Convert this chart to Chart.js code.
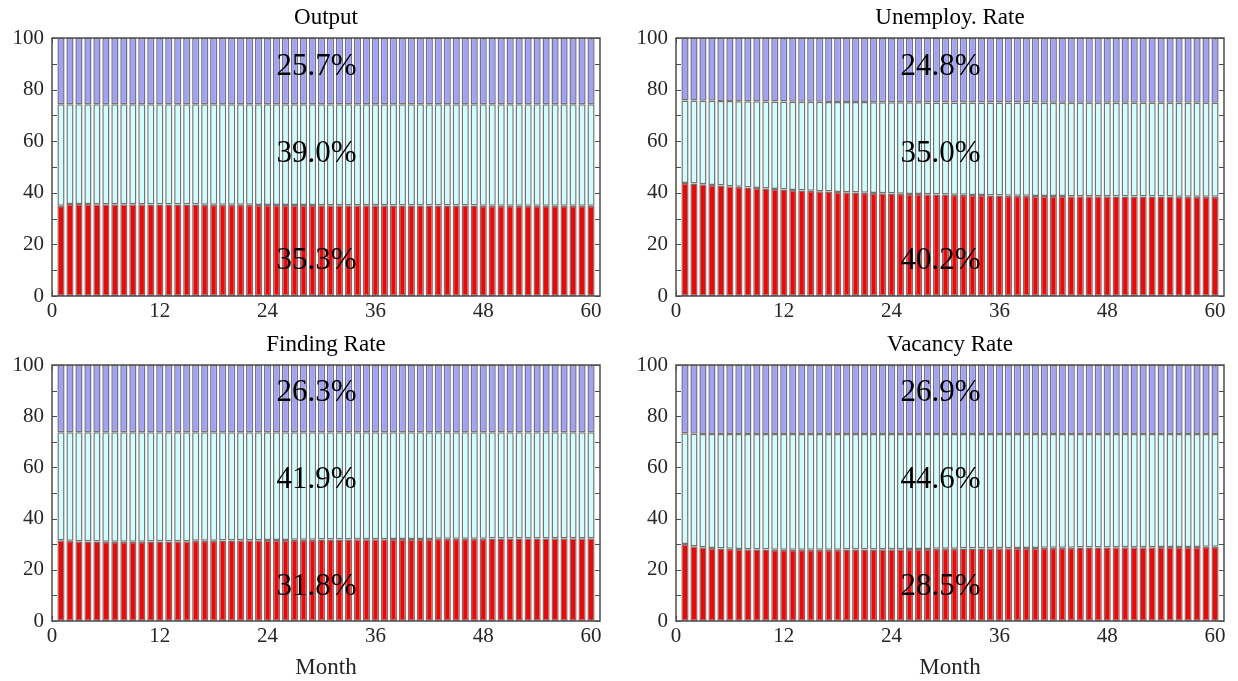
<!DOCTYPE html>
<html>
<head>
<meta charset="utf-8">
<script src="https://cdn.jsdelivr.net/npm/chart.js@4.4.1/dist/chart.umd.min.js"></script>
<style>
body { margin: 0; background: #fff; width: 1238px; height: 681px; overflow: hidden; position: relative; }
.panel { position: absolute; }
</style>
</head>
<body>
<div class="panel" style="left:0;top:0;width:620px;height:325px"><canvas id="c0"></canvas></div>
<div class="panel" style="left:620px;top:0;width:618px;height:325px"><canvas id="c1"></canvas></div>
<div class="panel" style="left:0;top:325px;width:620px;height:356px"><canvas id="c2"></canvas></div>
<div class="panel" style="left:620px;top:325px;width:618px;height:356px"><canvas id="c3"></canvas></div>
<script>
// months on the x axis
var months = [1, 2, 3, 4, 5, 6, 7, 8, 9, 10, 11, 12, 13, 14, 15, 16, 17, 18, 19, 20,
    21, 22, 23, 24, 25, 26, 27, 28, 29, 30, 31, 32, 33, 34, 35, 36, 37, 38, 39, 40,
    41, 42, 43, 44, 45, 46, 47, 48, 49, 50, 51, 52, 53, 54, 55, 56, 57, 58, 59, 60];

var xTicks = [0, 12, 24, 36, 48, 60];
var yTicks = [0, 20, 40, 60, 80, 100];
var yMinor = [10, 30, 50, 70, 90];

var titles = ['Output', 'Unemploy. Rate', 'Finding Rate', 'Vacancy Rate'];
var xTitle = 'Month';

// share labels (bottom, middle, top) for each panel
var pctOutput = ['35.3%', '39.0%', '25.7%'];
var pctUnemp = ['40.2%', '35.0%', '24.8%'];
var pctFinding = ['31.8%', '41.9%', '26.3%'];
var pctVacancy = ['28.5%', '44.6%', '26.9%'];
var labelX = 25;
var labelY = [13.5, 55, 89];

// Output
var outputRed = [35.0, 35.7, 35.7, 35.7, 35.6, 35.6, 35.6, 35.6, 35.6, 35.6,
    35.5, 35.5, 35.5, 35.5, 35.5, 35.5, 35.4, 35.4, 35.4, 35.4,
    35.4, 35.4, 35.3, 35.3, 35.3, 35.3, 35.3, 35.3, 35.3, 35.2,
    35.2, 35.2, 35.2, 35.2, 35.2, 35.2, 35.2, 35.1, 35.1, 35.1,
    35.1, 35.1, 35.1, 35.1, 35.1, 35.1, 35.1, 35.0, 35.0, 35.0,
    35.0, 35.0, 35.0, 35.0, 35.0, 35.0, 35.0, 35.0, 35.0, 35.0];
var outputCyan = [39.3, 38.6, 38.6, 38.6, 38.7, 38.7, 38.7, 38.7, 38.7, 38.7,
    38.8, 38.8, 38.8, 38.8, 38.8, 38.8, 38.9, 38.9, 38.9, 38.9,
    38.9, 38.9, 39.0, 39.0, 39.0, 39.0, 39.0, 39.0, 39.0, 39.1,
    39.1, 39.1, 39.1, 39.1, 39.1, 39.1, 39.1, 39.2, 39.2, 39.2,
    39.2, 39.2, 39.2, 39.2, 39.2, 39.2, 39.2, 39.3, 39.3, 39.3,
    39.3, 39.3, 39.3, 39.3, 39.3, 39.3, 39.3, 39.3, 39.3, 39.3];
var outputBlue = [25.7, 25.7, 25.7, 25.7, 25.7, 25.7, 25.7, 25.7, 25.7, 25.7,
    25.7, 25.7, 25.7, 25.7, 25.7, 25.7, 25.7, 25.7, 25.7, 25.7,
    25.7, 25.7, 25.7, 25.7, 25.7, 25.7, 25.7, 25.7, 25.7, 25.7,
    25.7, 25.7, 25.7, 25.7, 25.7, 25.7, 25.7, 25.7, 25.7, 25.7,
    25.7, 25.7, 25.7, 25.7, 25.7, 25.7, 25.7, 25.7, 25.7, 25.7,
    25.7, 25.7, 25.7, 25.7, 25.7, 25.7, 25.7, 25.7, 25.7, 25.7];

// Unemployment rate
var unempRed = [43.8, 43.6, 43.3, 43.0, 42.8, 42.5, 42.3, 42.1, 41.9, 41.7,
    41.5, 41.3, 41.1, 40.9, 40.8, 40.6, 40.5, 40.3, 40.2, 40.1,
    40.0, 39.9, 39.8, 39.7, 39.6, 39.5, 39.5, 39.4, 39.3, 39.3,
    39.2, 39.2, 39.1, 39.1, 39.0, 39.0, 38.9, 38.9, 38.9, 38.8,
    38.8, 38.8, 38.8, 38.7, 38.7, 38.7, 38.7, 38.7, 38.6, 38.6,
    38.6, 38.6, 38.6, 38.6, 38.6, 38.5, 38.5, 38.5, 38.5, 38.5];
var unempCyan = [32.0, 32.2, 32.4, 32.7, 32.8, 33.1, 33.2, 33.4, 33.6, 33.7,
    33.9, 34.1, 34.2, 34.4, 34.5, 34.7, 34.7, 34.9, 35.0, 35.1,
    35.2, 35.2, 35.3, 35.4, 35.5, 35.6, 35.6, 35.6, 35.7, 35.7,
    35.8, 35.8, 35.9, 35.9, 36.0, 36.0, 36.1, 36.1, 36.1, 36.2,
    36.1, 36.1, 36.1, 36.2, 36.2, 36.2, 36.2, 36.2, 36.3, 36.3,
    36.3, 36.3, 36.3, 36.3, 36.3, 36.4, 36.4, 36.4, 36.4, 36.4];
var unempBlue = [24.2, 24.2, 24.3, 24.3, 24.4, 24.4, 24.5, 24.5, 24.5, 24.6,
    24.6, 24.6, 24.7, 24.7, 24.7, 24.7, 24.8, 24.8, 24.8, 24.8,
    24.8, 24.9, 24.9, 24.9, 24.9, 24.9, 24.9, 25.0, 25.0, 25.0,
    25.0, 25.0, 25.0, 25.0, 25.0, 25.0, 25.0, 25.0, 25.0, 25.0,
    25.1, 25.1, 25.1, 25.1, 25.1, 25.1, 25.1, 25.1, 25.1, 25.1,
    25.1, 25.1, 25.1, 25.1, 25.1, 25.1, 25.1, 25.1, 25.1, 25.1];

// Finding rate
var findingRed = [31.5, 31.3, 31.2, 31.1, 31.1, 31.0, 31.0, 31.0, 31.0, 31.0,
    31.1, 31.1, 31.1, 31.2, 31.2, 31.3, 31.3, 31.3, 31.4, 31.4,
    31.5, 31.5, 31.5, 31.6, 31.6, 31.6, 31.7, 31.7, 31.7, 31.8,
    31.8, 31.8, 31.8, 31.9, 31.9, 31.9, 31.9, 32.0, 32.0, 32.0,
    32.0, 32.0, 32.1, 32.1, 32.1, 32.1, 32.1, 32.1, 32.2, 32.2,
    32.2, 32.2, 32.2, 32.2, 32.2, 32.3, 32.3, 32.3, 32.3, 32.3];
var findingCyan = [42.2, 42.4, 42.5, 42.6, 42.6, 42.7, 42.7, 42.7, 42.7, 42.7,
    42.6, 42.6, 42.6, 42.5, 42.5, 42.4, 42.4, 42.4, 42.3, 42.3,
    42.2, 42.2, 42.2, 42.1, 42.1, 42.1, 42.0, 42.0, 42.0, 41.9,
    41.9, 41.9, 41.9, 41.8, 41.8, 41.8, 41.8, 41.7, 41.7, 41.7,
    41.7, 41.7, 41.6, 41.6, 41.6, 41.6, 41.6, 41.6, 41.5, 41.5,
    41.5, 41.5, 41.5, 41.5, 41.5, 41.4, 41.4, 41.4, 41.4, 41.4];
var findingBlue = [26.3, 26.3, 26.3, 26.3, 26.3, 26.3, 26.3, 26.3, 26.3, 26.3,
    26.3, 26.3, 26.3, 26.3, 26.3, 26.3, 26.3, 26.3, 26.3, 26.3,
    26.3, 26.3, 26.3, 26.3, 26.3, 26.3, 26.3, 26.3, 26.3, 26.3,
    26.3, 26.3, 26.3, 26.3, 26.3, 26.3, 26.3, 26.3, 26.3, 26.3,
    26.3, 26.3, 26.3, 26.3, 26.3, 26.3, 26.3, 26.3, 26.3, 26.3,
    26.3, 26.3, 26.3, 26.3, 26.3, 26.3, 26.3, 26.3, 26.3, 26.3];

// Vacancy rate
var vacancyRed = [30.1, 29.2, 28.8, 28.5, 28.3, 28.2, 28.1, 28.0, 27.9, 27.9,
    27.8, 27.8, 27.8, 27.8, 27.8, 27.8, 27.8, 27.8, 27.9, 27.9,
    27.9, 27.9, 28.0, 28.0, 28.0, 28.1, 28.1, 28.1, 28.2, 28.2,
    28.2, 28.3, 28.3, 28.3, 28.4, 28.4, 28.4, 28.5, 28.5, 28.5,
    28.6, 28.6, 28.6, 28.6, 28.7, 28.7, 28.7, 28.7, 28.8, 28.8,
    28.8, 28.8, 28.8, 28.9, 28.9, 28.9, 28.9, 28.9, 29.0, 29.0];
var vacancyCyan = [43.2, 43.9, 44.2, 44.5, 44.7, 44.8, 44.9, 45.0, 45.1, 45.1,
    45.2, 45.2, 45.2, 45.2, 45.2, 45.2, 45.2, 45.2, 45.1, 45.1,
    45.1, 45.1, 45.0, 45.0, 45.0, 44.9, 44.9, 44.9, 44.8, 44.8,
    44.8, 44.7, 44.7, 44.7, 44.6, 44.6, 44.6, 44.5, 44.5, 44.5,
    44.4, 44.4, 44.4, 44.4, 44.3, 44.3, 44.3, 44.3, 44.2, 44.2,
    44.2, 44.2, 44.2, 44.1, 44.1, 44.1, 44.1, 44.1, 44.0, 44.0];
var vacancyBlue = [26.7, 26.9, 27.0, 27.0, 27.0, 27.0, 27.0, 27.0, 27.0, 27.0,
    27.0, 27.0, 27.0, 27.0, 27.0, 27.0, 27.0, 27.0, 27.0, 27.0,
    27.0, 27.0, 27.0, 27.0, 27.0, 27.0, 27.0, 27.0, 27.0, 27.0,
    27.0, 27.0, 27.0, 27.0, 27.0, 27.0, 27.0, 27.0, 27.0, 27.0,
    27.0, 27.0, 27.0, 27.0, 27.0, 27.0, 27.0, 27.0, 27.0, 27.0,
    27.0, 27.0, 27.0, 27.0, 27.0, 27.0, 27.0, 27.0, 27.0, 27.0];

var serif = '"Liberation Serif", "Times New Roman", serif';
var axisColor = '#4d4d4d';
var tickColor = '#262626';

// plot area layout per panel
var panels = [
    { canvas: 'c0', title: titles[0], red: outputRed, cyan: outputCyan, blue: outputBlue, pct: pctOutput, padTop: 38, yW: 52, xH: 29, padRight: 20, titleY: 18, month: false },
    { canvas: 'c1', title: titles[1], red: unempRed, cyan: unempCyan, blue: unempBlue, pct: pctUnemp, padTop: 38, yW: 56, xH: 29, padRight: 14, titleY: 18, month: false },
    { canvas: 'c2', title: titles[2], red: findingRed, cyan: findingCyan, blue: findingBlue, pct: pctFinding, padTop: 40, yW: 52, xH: 60, padRight: 20, titleY: 20, month: true },
    { canvas: 'c3', title: titles[3], red: vacancyRed, cyan: vacancyCyan, blue: vacancyBlue, pct: pctVacancy, padTop: 40, yW: 56, xH: 60, padRight: 14, titleY: 20, month: true }
];

function toPoints(vals) {
    return vals.map(function (v, i) { return { x: months[i], y: v }; });
}

var decor = {
    id: 'decor',
    beforeDatasetsDraw: function (chart) {
        var ctx = chart.ctx, a = chart.chartArea, x = chart.scales.x, y = chart.scales.y;
        ctx.save();
        ctx.strokeStyle = axisColor;
        ctx.lineWidth = 1;
        ctx.beginPath();
        yTicks.concat(yMinor).forEach(function (v) {
            var py = Math.round(y.getPixelForValue(v)) + 0.5;
            ctx.moveTo(a.left, py); ctx.lineTo(a.left + 5, py);
            ctx.moveTo(a.right, py); ctx.lineTo(a.right - 5, py);
        });
        xTicks.forEach(function (v) {
            var px = Math.round(x.getPixelForValue(v)) + 0.5;
            ctx.moveTo(px, a.bottom); ctx.lineTo(px, a.bottom - 5);
            ctx.moveTo(px, a.top); ctx.lineTo(px, a.top + 5);
        });
        ctx.stroke();
        ctx.restore();
    },
    afterDatasetsDraw: function (chart, args, opts) {
        var ctx = chart.ctx, a = chart.chartArea, x = chart.scales.x, y = chart.scales.y;
        ctx.save();
        ctx.strokeStyle = axisColor;
        ctx.lineWidth = 1.5;
        ctx.strokeRect(a.left, a.top, a.right - a.left, a.bottom - a.top);

        ctx.fillStyle = '#000';
        ctx.textAlign = 'center';
        ctx.textBaseline = 'middle';
        ctx.font = '23px ' + serif;
        ctx.fillText(opts.title, (a.left + a.right) / 2, opts.titleY);
        if (opts.month) {
            ctx.fillStyle = tickColor;
            ctx.fillText(xTitle, (a.left + a.right) / 2, a.bottom + 47);
        }

        ctx.fillStyle = '#000';
        ctx.textAlign = 'left';
        ctx.font = '31px ' + serif;
        opts.pct.forEach(function (t, i) {
            ctx.fillText(t, x.getPixelForValue(labelX), y.getPixelForValue(labelY[i]));
        });
        ctx.restore();
    }
};

panels.forEach(function (p) {
    new Chart(document.getElementById(p.canvas), {
        type: 'bar',
        data: {
            datasets: [
                { data: toPoints(p.red), backgroundColor: '#ff0000' },
                { data: toPoints(p.cyan), backgroundColor: '#ccffff' },
                { data: toPoints(p.blue), backgroundColor: '#a0a0ff' }
            ]
        },
        options: {
            responsive: true,
            maintainAspectRatio: false,
            animation: false,
            datasets: {
                bar: {
                    borderColor: '#747474',
                    borderWidth: 1.5,
                    borderSkipped: false,
                    barPercentage: 0.8,
                    categoryPercentage: 1
                }
            },
            layout: { padding: { top: p.padTop, right: p.padRight, left: 0, bottom: 0 } },
            plugins: {
                legend: { display: false },
                tooltip: { enabled: false },
                decor: { title: p.title, pct: p.pct, titleY: p.titleY, month: p.month }
            },
            scales: {
                x: {
                    type: 'linear',
                    stacked: true,
                    offset: false,
                    min: 0,
                    max: 61,
                    grid: { display: false, drawTicks: false },
                    border: { display: false },
                    afterBuildTicks: function (s) { s.ticks = xTicks.map(function (v) { return { value: v }; }); },
                    afterFit: function (s) { s.height = p.xH; },
                    ticks: { padding: 3, maxRotation: 0, autoSkip: false, color: tickColor, font: { family: serif, size: 21 } }
                },
                y: {
                    stacked: true,
                    min: 0,
                    max: 100,
                    grid: { display: false, drawTicks: false },
                    border: { display: false },
                    afterBuildTicks: function (s) { s.ticks = yTicks.map(function (v) { return { value: v }; }); },
                    afterFit: function (s) { s.width = p.yW; },
                    ticks: { padding: 8, color: tickColor, font: { family: serif, size: 21 } }
                }
            }
        },
        plugins: [decor]
    });
});
</script>
</body>
</html>
